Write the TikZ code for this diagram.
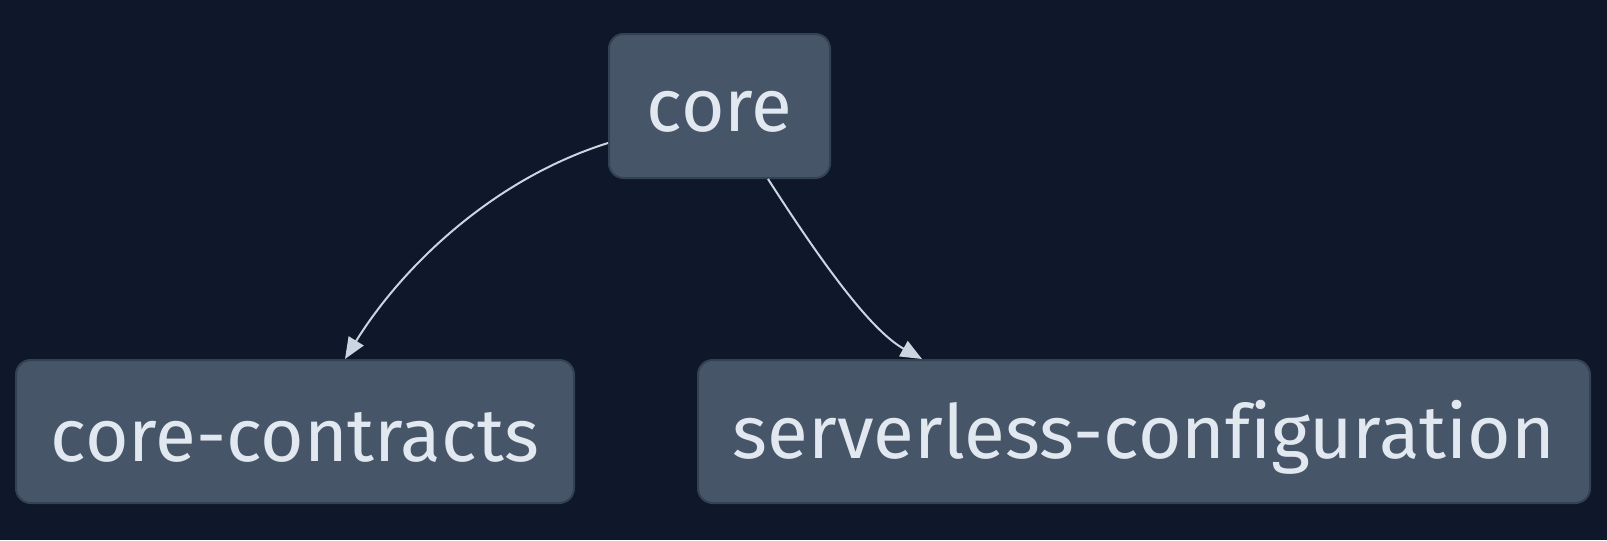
\documentclass[tikz,border=0pt]{standalone}
\usepackage{fontspec}
\setmainfont[Ligatures={NoCommon}]{Fira Sans}
\usetikzlibrary{arrows.meta,calc}
\definecolor{bg}{HTML}{0F172A}
\definecolor{nodefill}{HTML}{475569}
\definecolor{nodeborder}{HTML}{334155}
\definecolor{txt}{HTML}{E2E8F0}
\definecolor{edge}{HTML}{CBD5E1}
\newcommand{\lbl}[1]{\raisebox{-4.5pt}[\height][\depth]{#1}}
\begin{document}
\begin{tikzpicture}[x=0.75pt,y=-0.75pt,
  box/.style={draw=nodeborder,line width=1.5pt,fill=nodefill,rounded corners=11pt,
    text=txt,font=\fontsize{56}{66}\selectfont,inner sep=0pt,anchor=center},
  link/.style={draw=edge,line width=1.5pt,-{Triangle[length=16pt,width=13pt]}}]
\fill[bg] (0,0) rectangle (1607,540);
\useasboundingbox (0,0) rectangle (1607,540);
\node[box,minimum width=165.75pt,minimum height=108pt] (core) at (719.5,106) {\lbl{core}};
\node[box,minimum width=418.5pt,minimum height=107.25pt] (cc) at (295,431.5) {\lbl{core-contracts}};
\node[box,minimum width=669pt,minimum height=107.25pt] (sc) at (1144,431.5) {\lbl{serverless-configuration}};
\coordinate (s1) at ($(core.west)+(0,37)$);
\coordinate (e1) at ($(cc.north)+(50,0)$);
\coordinate (s2) at ($(core.south)+(48.5,0)$);
\coordinate (e2) at ($(sc.north)+(-222,0)$);
\draw[link] (s1) .. controls (490,180) and (400,270) .. (e1);
\draw[link] (s2) .. controls (820,260) and (870,330) .. (e2);
\end{tikzpicture}
\end{document}
